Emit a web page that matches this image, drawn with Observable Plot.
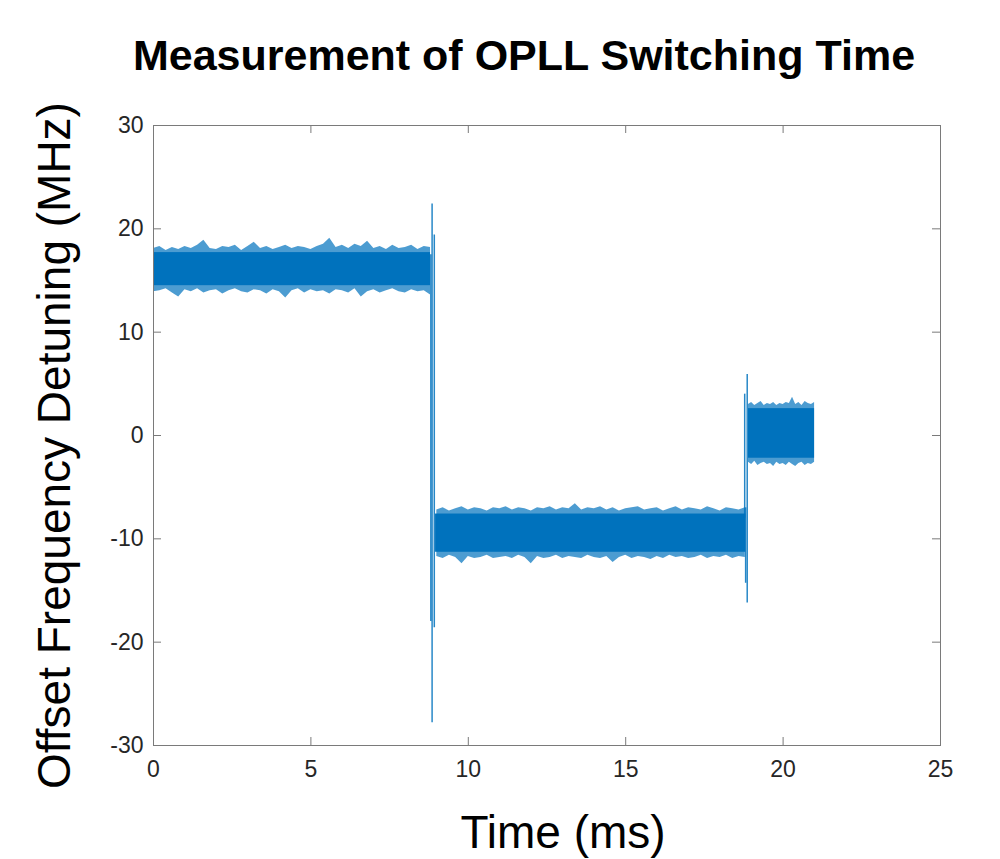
<!DOCTYPE html>
<html><head><meta charset="utf-8">
<script src="https://cdn.jsdelivr.net/npm/d3@7"></script>
<script src="https://cdn.jsdelivr.net/npm/@observablehq/plot@0.6"></script>
<style>
body{margin:0;background:#fff;font-family:"Liberation Sans",Arial,sans-serif;}
#wrap{position:relative;width:1000px;height:859px;overflow:hidden;}
#chart{position:absolute;left:0;top:0;}
#title{position:absolute;left:0;top:30px;width:1000px;box-sizing:border-box;padding-left:48px;text-align:center;font-weight:bold;font-size:43px;line-height:50px;color:#000;white-space:nowrap;}
</style></head>
<body><div id="wrap"><div id="chart"></div><div id="title">Measurement of OPLL Switching Time</div></div>
<script>
// ---- data ----
const titleText = "Measurement of OPLL Switching Time";
const xLabel = "Time (ms)";
const yLabel = "Offset Frequency Detuning (MHz)";
const xTicks = [0, 5, 10, 15, 20, 25];
const yTicks = [-30, -20, -10, 0, 10, 20, 30];

// band 1: locked at about +16 MHz (0 – 8.8 ms): outer envelope
const t1 = [0,0.2,0.4,0.6,0.8,1,1.2,1.4,1.6,1.8,2,2.2,2.4,2.6,2.8,3,3.2,3.4,3.6,3.8,4,4.2,4.4,4.6,4.8,5,5.2,5.4,5.6,5.8,6,6.2,6.4,6.6,6.8,7,7.2,7.4,7.6,7.8,8,8.2,8.4,8.6,8.8];
const hi1 = [18.1,18.3,17.9,18.2,18.0,18.3,18.1,18.4,18.9,18.1,18.0,18.3,18.2,18.4,17.9,18.3,18.7,18.1,18.3,18.0,18.2,18.4,18.1,18.3,18.2,18.0,18.3,18.5,19.1,18.2,18.4,18.1,18.5,18.3,18.8,18.1,18.3,18.0,18.4,18.1,18.2,18.4,18.0,18.3,18.2];
const lo1 = [13.9,14.0,14.2,13.8,13.4,14.1,13.9,14.2,13.8,14.0,14.1,13.7,14.0,14.2,13.9,13.8,14.1,14.0,13.7,14.1,13.9,13.3,14.0,14.2,13.8,14.1,13.9,14.0,13.7,14.1,14.0,13.8,14.2,13.4,13.9,14.1,13.8,14.0,14.2,13.9,13.8,14.1,13.9,14.0,13.6];

// band 2: locked at about -9.5 MHz (9.0 – 18.8 ms)
const t2 = [9,9.2,9.4,9.6,9.8,10,10.2,10.4,10.6,10.8,11,11.2,11.4,11.6,11.8,12,12.2,12.4,12.6,12.8,13,13.2,13.4,13.6,13.8,14,14.2,14.4,14.6,14.8,15,15.2,15.4,15.6,15.8,16,16.2,16.4,16.6,16.8,17,17.2,17.4,17.6,17.8,18,18.2,18.4,18.6,18.8];
const hi2 = [-7.2,-7.0,-7.3,-7.1,-6.9,-7.2,-7.0,-7.1,-7.3,-7.0,-7.1,-6.9,-7.2,-7.0,-7.1,-7.3,-7.0,-7.1,-6.9,-7.2,-7.0,-7.1,-6.6,-7.2,-7.0,-7.1,-6.9,-7.2,-7.0,-7.3,-7.1,-7.0,-6.9,-7.2,-7.1,-7.0,-7.3,-7.1,-6.9,-7.2,-7.0,-7.1,-7.2,-6.9,-7.1,-7.3,-7.0,-7.1,-7.2,-7.0];
const lo2 = [-11.7,-11.9,-11.6,-11.8,-12.4,-11.7,-11.9,-11.8,-11.6,-11.9,-11.8,-11.7,-11.9,-11.6,-11.8,-12.4,-11.7,-11.9,-11.8,-11.6,-11.9,-11.7,-11.8,-11.9,-11.6,-11.8,-11.9,-11.7,-12.3,-11.8,-11.6,-11.9,-11.7,-11.8,-12.0,-11.7,-11.9,-11.6,-11.8,-11.7,-11.9,-11.8,-11.6,-11.9,-11.7,-11.8,-11.6,-11.9,-11.7,-11.8];

// band 3: locked at about 0 MHz (18.9 – 21.0 ms)
const t3 = [18.9,19,19.1,19.2,19.3,19.4,19.5,19.6,19.7,19.8,19.9,20,20.1,20.2,20.3,20.4,20.5,20.6,20.7,20.8,20.9,21];
const hi3 = [3.0,3.2,2.9,3.1,3.3,2.9,3.1,3.0,3.2,2.9,3.1,3.0,3.2,3.1,3.7,3.0,3.2,2.9,3.3,3.1,3.0,3.2];
const lo3 = [-2.6,-2.8,-2.5,-2.9,-2.7,-2.6,-2.8,-2.7,-3.0,-2.6,-2.8,-2.7,-2.9,-2.6,-2.8,-3.0,-2.7,-2.6,-2.9,-2.7,-2.8,-2.6];

// dense cores of the three bands: start, end, lower, upper
const coreStart = [0, 8.96, 18.9];
const coreEnd = [8.8, 18.82, 21.0];
const coreLo = [14.5, -11.3, -2.2];
const coreHi = [17.7, -7.6, 2.6];

// switching transients: time, top, bottom
const spikeT = [8.81, 8.85, 8.92, 18.78, 18.81, 18.86];
const spikeTop = [17.5, 22.4, 19.4, 4.0, -7.0, 5.9];
const spikeBottom = [-18.0, -27.8, -18.6, -8.0, -14.3, -16.2];

// ---- build tables ----
const band = (t, hi, lo) => t.map((x, i) => ({t: x, hi: hi[i], lo: lo[i]}));
const bands = [band(t1, hi1, lo1), band(t2, hi2, lo2), band(t3, hi3, lo3)];
const cores = coreStart.map((s, i) => ({x1: s, x2: coreEnd[i], y1: coreLo[i], y2: coreHi[i]}));
const spikes = spikeT.map((x, i) => ({x, y1: spikeTop[i], y2: spikeBottom[i]}));

const blue = "#0072BD";
const axisColor = "#262626";
const boxColor = "#7a7a7a";

const marks = [];
for (const b of bands) {
  marks.push(Plot.areaY(b, {x: "t", y1: "lo", y2: "hi", fill: blue, fillOpacity: 0.7, curve: "linear"}));
}
marks.push(Plot.rect(cores, {x1: "x1", x2: "x2", y1: "y1", y2: "y2", fill: blue}));
marks.push(Plot.ruleX(spikes, {x: "x", y1: "y1", y2: "y2", stroke: blue, strokeWidth: 1.5, strokeOpacity: 0.85}));
// box
marks.push(Plot.frame({stroke: boxColor, strokeWidth: 1}));
// inward ticks on all four sides
marks.push(Plot.ruleX(xTicks, {x: d => d, insetTop: 612, stroke: boxColor}));
marks.push(Plot.ruleX(xTicks, {x: d => d, insetBottom: 612, stroke: boxColor}));
marks.push(Plot.ruleY(yTicks, {y: d => d, insetRight: 779, stroke: boxColor}));
marks.push(Plot.ruleY(yTicks, {y: d => d, insetLeft: 779, stroke: boxColor}));
// tick labels
marks.push(Plot.axisX({ticks: xTicks, tickSize: 0, tickPadding: 15, fontSize: 23, color: axisColor, label: null, tickFormat: d => String(d)}));
marks.push(Plot.axisY({ticks: yTicks, tickSize: 0, tickPadding: 10, fontSize: 23, color: axisColor, label: null, tickFormat: d => String(d)}));
// axis titles
marks.push(Plot.text([xLabel], {frameAnchor: "bottom", text: d => d, dx: 16, dy: 88, fontSize: 46, fill: "#000", textAnchor: "middle", lineAnchor: "middle"}));
marks.push(Plot.text([yLabel], {frameAnchor: "left", text: d => d, rotate: -90, dx: -98, dy: 10, fontSize: 46, fill: "#000", textAnchor: "middle", lineAnchor: "middle"}));

const chart = Plot.plot({
  width: 1000,
  height: 859,
  marginLeft: 153,
  marginRight: 60,
  marginTop: 125,
  marginBottom: 114,
  style: {fontFamily: "'Liberation Sans', Arial, sans-serif", background: "#fff", overflow: "visible"},
  x: {domain: [0, 25]},
  y: {domain: [-30, 30]},
  marks
});
document.getElementById("chart").appendChild(chart);
document.getElementById("title").textContent = titleText;
</script>
</body></html>
